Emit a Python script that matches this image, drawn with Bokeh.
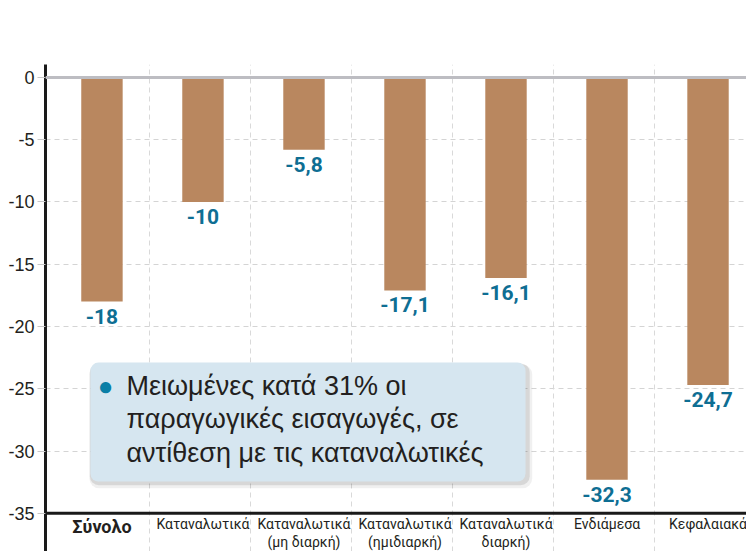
from bokeh.plotting import figure
from bokeh.models import (FixedTicker, Grid, Span, BoxAnnotation, Label, ColumnDataSource,
                          Range1d, PrintfTickFormatter)
from bokeh.core.properties import value
from bokeh.embed import file_html
from bokeh.resources import INLINE

categories = ["Σύνολο", "Καταναλωτικά", "Καταναλωτικά\n(μη διαρκή)",
              "Καταναλωτικά\n(ημιδιαρκή)", "Καταναλωτικά\nδιαρκή)",
              "Ενδιάμεσα", "Κεφαλαιακά"]
values = [-18, -10, -5.8, -17.1, -16.1, -32.3, -24.7]
y_ticks = [0, -5, -10, -15, -20, -25, -30, -35]
note_lines = ["Μειωμένες κατά 31% οι",
              "παραγωγικές εισαγωγές, σε",
              "αντίθεση με τις καταναλωτικές"]

BAR = "#B9875F"
BLUE = "#0E6E93"
TXT = "#231f20"

xs = list(range(len(categories)))
vlabels = [(f"{v:.1f}".replace(".", ",") if v != int(v) else str(int(v))) for v in values]
ymin = min(y_ticks)

p = figure(width=746, height=551, output_backend="svg", toolbar_location=None,
           x_axis_type=None, x_range=Range1d(-0.559, 6.381), y_range=Range1d(-38.07, 1.04),
           min_border_left=45, min_border_top=64, min_border_right=0, min_border_bottom=0)
p.outline_line_color = None
p.background_fill_color = "white"

# axes / grids
p.yaxis.ticker = FixedTicker(ticks=y_ticks)
p.yaxis.formatter = PrintfTickFormatter(format="%d")
p.yaxis.axis_line_width = 3
p.yaxis.axis_line_color = "#1a1a1a"
p.yaxis.major_tick_out = 8
p.yaxis.major_tick_in = 0
p.yaxis.major_tick_line_color = "#c8c8c8"
p.yaxis.minor_tick_line_color = None
p.yaxis.major_label_text_font_size = "18px"
p.yaxis.major_label_text_font = "Liberation Sans"
p.yaxis.major_label_text_color = TXT
p.yaxis.major_label_standoff = 3

p.ygrid.ticker = FixedTicker(ticks=y_ticks[1:-1])
p.ygrid.grid_line_color = "#d4d4d4"
p.ygrid.grid_line_dash = "5 4"

vgrid = Grid(dimension=0, ticker=FixedTicker(ticks=[i + 0.47 for i in xs[:-1]]),
             grid_line_color="#d9d9d9", grid_line_dash="5 4")
p.add_layout(vgrid)

p.add_layout(Span(location=0, dimension="width", line_color="#bdbdc2", line_width=3))
p.add_layout(Span(location=ymin, dimension="width", line_color="#1a1a1a", line_width=3))

src = ColumnDataSource(dict(x=xs, v=values, lab=vlabels, cat=categories,
                            style=["bold"] + ["normal"] * (len(categories) - 1),
                            size=["18px"] + ["14px"] * (len(categories) - 1),
                            base=[ymin] * len(categories)))

p.vbar(x="x", top=0, bottom="v", width=0.41, source=src, fill_color=BAR, line_color=None)

p.text(x="x", y="v", text="lab", source=src, text_align="center", text_baseline="top",
       y_offset=7, text_font=value("Roboto"), text_font_style="bold",
       text_font_size="21px", text_color=BLUE)

p.text(x="x", y="base", text="cat", source=src, text_align="center", text_baseline="top",
       y_offset=3, text_font=value("Roboto"),
       text_font_style="style", text_font_size="size", text_color=TXT, text_line_height=1.1)

# note box with shadow
p.add_layout(BoxAnnotation(left=-0.125, right=4.26, top=-23.05, bottom=-33.0,
                           fill_color="#000000", fill_alpha=0.06, line_color=None,
                           border_radius=10))
p.add_layout(BoxAnnotation(left=-0.12, right=4.235, top=-22.97, bottom=-32.75,
                           fill_color="#000000", fill_alpha=0.10, line_color=None,
                           border_radius=9))
p.add_layout(BoxAnnotation(left=-0.114, right=4.193, top=-22.9, bottom=-32.45,
                           fill_color="#D6E6F0", fill_alpha=1.0, line_color=None,
                           border_radius=8))

p.add_layout(Label(x=0.035, y=-24.74, text="●", text_align="center", text_baseline="middle",
                   text_font_size="26px", text_color="#0A7FA6"))
for line, yy in zip(note_lines, [-24.74, -27.39, -30.12]):
    p.add_layout(Label(x=0.243, y=yy, text=line, text_baseline="middle",
                       text_font="Liberation Sans", text_font_size="27px", text_color=TXT))

open("out.html", "w").write(file_html(p, INLINE))
